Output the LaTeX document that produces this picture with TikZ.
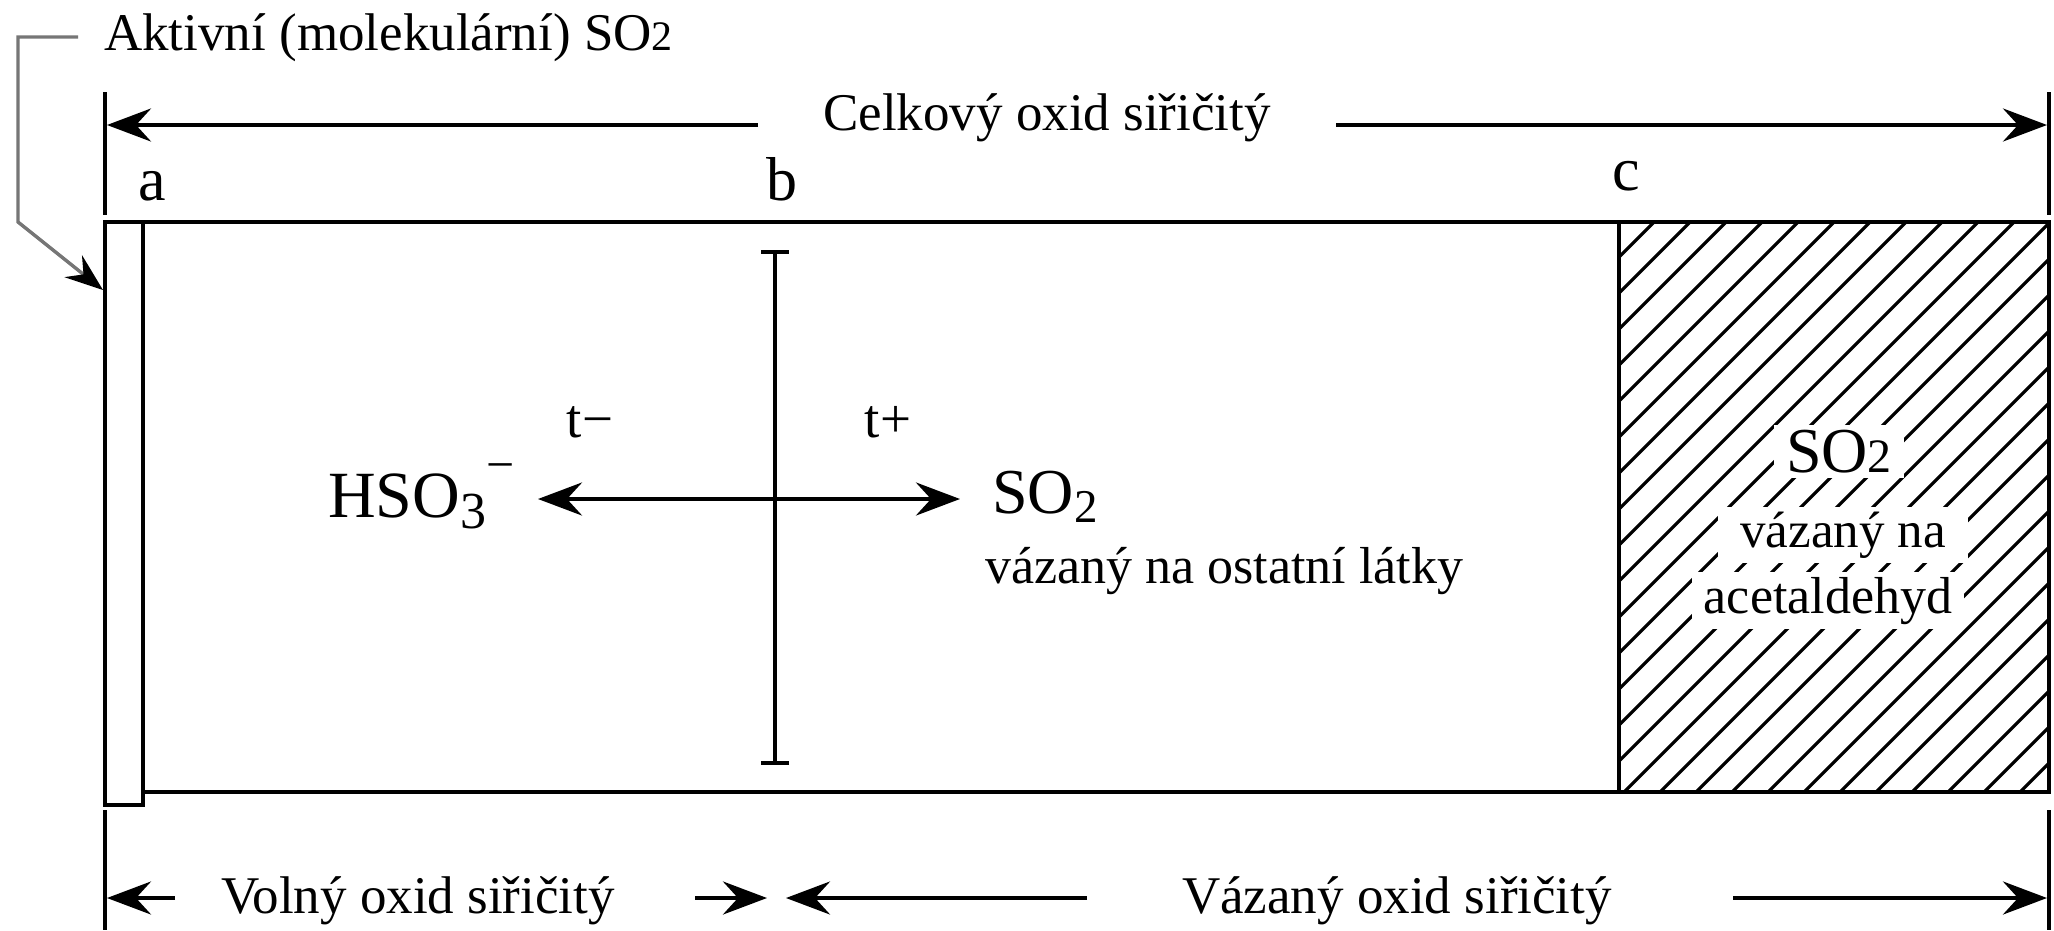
\documentclass[tikz,border=0pt]{standalone}
\usepackage{fontspec}
\setmainfont{Liberation Serif}
\usetikzlibrary{arrows.meta}
\newcommand{\fs}[1]{\fontsize{#1}{#1}\selectfont}
\definecolor{leadgray}{RGB}{118,118,118}
\begin{document}
\begin{tikzpicture}[x=1pt,y=-1pt,
  ln/.style={line width=4.2pt},
  arr/.style={ln,-{Stealth[length=44pt,width=33pt,inset=15pt]}},
  txt/.style={inner sep=0pt,anchor=base},
  lbl/.style={txt,font=\fs{62}},
  hlab/.style={anchor=base,fill=white,inner xsep=12pt,inner ysep=5pt},
  hatch/.style={line width=3.2pt},
  leader/.style={draw=leadgray,line width=3.4pt,-{Stealth[length=38pt,width=28pt,inset=13pt,color=black]}}]
\useasboundingbox (0,0) rectangle (2054,930);
\fill[white] (0,0) rectangle (2054,930);

% hatched region
\begin{scope}
  \clip (1619,222) rectangle (2049,792);
  \foreach \k in {0,...,27} {
    \pgfmathsetmacro\c{1876+36*\k}
    \draw[hatch] (\c-900,900) -- (\c-100,100);
  }
\end{scope}

% main box
\draw[ln] (143,792) -- (2049,792) -- (2049,222) -- (105,222);
\draw[ln] (1619,222) -- (1619,792);
\draw[ln,fill=white] (105,222) rectangle (143,805);

% top dimension
\draw[ln] (105,92) -- (105,215);
\draw[ln] (2049,92) -- (2049,215);
\node[txt] (celk) at (1047,130) {\fs{53}Celkový oxid siřičitý};
\coordinate (tlT) at (758,125);
\coordinate (tlH) at (107,125);
\coordinate (trT) at (1336,125);
\coordinate (trH) at (2047,125);
\draw[arr] (tlT) -- (tlH);
\draw[arr] (trT) -- (trH);

% letters
\node[lbl] (la) at (152,200) {a};
\node[lbl] (lb) at (782,200) {b};
\node[lbl] (lc) at (1626,190) {c};

% active SO2 label and leader
\node[txt,anchor=base west] (akt) at (104,50) {\fs{53}Aktivní (molekulární) SO{\fs{42}2}};
\coordinate (lh) at (78,37);
\coordinate (lc1) at (18,37);
\coordinate (lc2) at (18,222);
\coordinate (ltip) at (103,290);
\draw[leader] (lh) -- (lc1) -- (lc2) -- (ltip);

% divider bar b
\coordinate (bt) at (775,250);
\coordinate (bb) at (775,765);
\draw[line width=3.6pt,{Bar[width=28pt]}-{Bar[width=28pt]}] (bt) -- (bb);
\coordinate (bm) at (775,499);
\coordinate (ml) at (538,499);
\coordinate (mr) at (960,499);
\draw[arr] (bm) -- (ml);
\draw[arr] (bm) -- (mr);

\node[txt] (tm) at (590,437) {\fs{55}t−};
\node[txt] (tp) at (888,437) {\fs{55}t+};

\node[txt,anchor=base west] (hso) at (328,517) {\fs{66}HSO\raisebox{-11pt}{\fs{52}3}\raisebox{36pt}{\fs{50}−}};
\node[txt,anchor=base west] (so) at (992,513) {\fs{64}SO\raisebox{-9pt}{\fs{47}2}};
\node[txt,anchor=base west] (ost) at (985,583) {\fs{52}vázaný na ostatní látky};

% hatched labels
\node[hlab] (hs) at (1839,472) {\fs{64}SO{\fs{48}2}};
\node[hlab,inner xsep=22pt] (hv) at (1843,547) {\fs{51}vázaný na};
\node[hlab] (ha) at (1828,613) {\fs{52}acetaldehyd};

% bottom dimension
\draw[ln] (105,810) -- (105,930);
\draw[ln] (2049,810) -- (2049,930);
\node[txt] (vol) at (418,913) {\fs{53}Volný oxid siřičitý};
\node[txt] (vaz) at (1397,913) {\fs{53}Vázaný oxid siřičitý};
\coordinate (v1T) at (175,898);
\coordinate (v1H) at (107,898);
\coordinate (v2T) at (695,898);
\coordinate (v2H) at (767,898);
\coordinate (w1T) at (1087,898);
\coordinate (w1H) at (786,898);
\coordinate (w2T) at (1733,898);
\coordinate (w2H) at (2047,898);
\draw[arr] (v1T) -- (v1H);
\draw[arr] (v2T) -- (v2H);
\draw[arr] (w1T) -- (w1H);
\draw[arr] (w2T) -- (w2H);
\end{tikzpicture}
\end{document}
